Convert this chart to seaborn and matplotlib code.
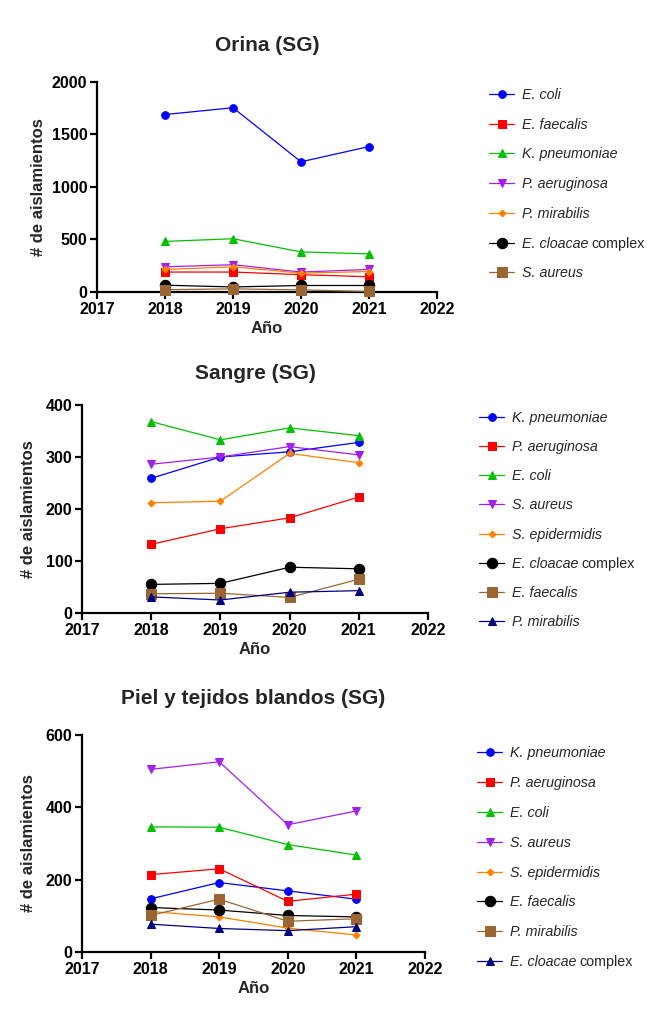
import matplotlib
matplotlib.use('Agg')
import pandas as pd
import seaborn as sns
import matplotlib.pyplot as plt

years = [2018, 2019, 2020, 2021]

# Orina (SG)
orina_names = ['E. coli', 'E. faecalis', 'K. pneumoniae', 'P. aeruginosa',
               'P. mirabilis', 'E. cloacae', 'S. aureus']
orina_vals = [
    [1690, 1755, 1240, 1385],
    [190, 190, 165, 145],
    [482, 507, 382, 363],
    [240, 260, 190, 215],
    [215, 240, 180, 195],
    [65, 48, 62, 62],
    [22, 30, 20, 5],
]

# Sangre (SG)
sangre_names = ['K. pneumoniae', 'P. aeruginosa', 'E. coli', 'S. aureus',
                'S. epidermidis', 'E. cloacae', 'E. faecalis', 'P. mirabilis']
sangre_vals = [
    [259, 300, 310, 328],
    [132, 162, 183, 223],
    [368, 333, 356, 341],
    [286, 300, 320, 304],
    [212, 215, 307, 289],
    [55, 57, 88, 85],
    [37, 38, 30, 65],
    [31, 25, 40, 43],
]

# Piel y tejidos blandos (SG)
piel_names = ['K. pneumoniae', 'P. aeruginosa', 'E. coli', 'S. aureus',
              'S. epidermidis', 'E. faecalis', 'P. mirabilis', 'E. cloacae']
piel_vals = [
    [147, 192, 169, 146],
    [214, 230, 140, 160],
    [346, 345, 297, 268],
    [505, 526, 352, 390],
    [112, 97, 66, 47],
    [123, 116, 101, 97],
    [101, 146, 85, 92],
    [77, 65, 59, 70],
]

# estilo por posicion (color, marcador, tamano)
styles = [
    ('#0000FF', 'o', 5.5),
    ('#FF0000', 's', 5.5),
    ('#00C000', '^', 5.5),
    ('#A020F0', 'v', 5.5),
    ('#FF8000', 'D', 3.5),
    ('#000000', 'o', 7.5),
    ('#996633', 's', 7),
    ('#000080', '^', 6),
]

sns.set_style('ticks')
plt.rcParams['font.family'] = ['Liberation Sans', 'DejaVu Sans']

fig = plt.figure(figsize=(6.59, 10.16), dpi=100)
W, H = 659, 1016
FS_LEG = 10.3
legends = []


def panel(rect, names, vals, title, ymax, ystep, leg_xy, ylab_x, tpad, lsp):
    x0, y0, x1, y1 = rect
    ax = fig.add_axes([x0 / W, 1 - y1 / H, (x1 - x0) / W, (y1 - y0) / H])
    for i, (n, v) in enumerate(zip(names, vals)):
        c, m, ms = styles[i]
        df = pd.DataFrame({'year': years, 'n': v})
        sns.lineplot(data=df, x='year', y='n', ax=ax, color=c, marker=m,
                     markersize=ms, markeredgecolor=c, linewidth=0.9,
                     label=n, clip_on=False, zorder=3 + i)
    ax.set_xlim(2017, 2022)
    ax.set_ylim(0, ymax)
    ax.set_xticks(range(2017, 2023))
    ax.set_yticks(range(0, ymax + 1, ystep))
    sns.despine(ax=ax)
    for s in ['left', 'bottom']:
        ax.spines[s].set_linewidth(1.6)
        ax.spines[s].set_color('black')
    ax.tick_params(direction='out', length=5, width=1.6, colors='black',
                   labelsize=11.5, pad=2)
    for t in ax.get_xticklabels() + ax.get_yticklabels():
        t.set_fontweight('bold')
    ax.set_title(title, fontsize=15, fontweight='bold', pad=tpad)
    ax.set_xlabel('Año', fontsize=12, fontweight='bold', labelpad=3)
    ax.set_ylabel('# de aislamientos', fontsize=12, fontweight='bold')
    ax.yaxis.set_label_coords((ylab_x - x0) / (x1 - x0), 0.5)
    leg = ax.legend(loc='upper left',
                    bbox_to_anchor=(leg_xy[0] / W, 1 - leg_xy[1] / H),
                    bbox_transform=fig.transFigure, frameon=False,
                    handlelength=1.75, handletextpad=0.56, labelspacing=lsp,
                    borderpad=0, borderaxespad=0,
                    prop={'style': 'italic', 'size': FS_LEG})
    legends.append((leg, names))
    return ax


panel((97, 82, 437, 292), orina_names, orina_vals, 'Orina (SG)', 2000, 500,
      (489, 88), 46, 22, 1.10)
panel((82, 405, 428, 613), sangre_names, sangre_vals, 'Sangre (SG)', 400, 100,
      (479, 411), 36, 19, 1.06)
panel((82, 735, 425, 952), piel_names, piel_vals, 'Piel y tejidos blandos (SG)',
      600, 200, (477, 746), 36, 22, 1.11)

# "complex" en letra normal despues de E. cloacae
fig.canvas.draw()
r = fig.canvas.get_renderer()
for leg, names in legends:
    for n, t in zip(names, leg.get_texts()):
        if n == 'E. cloacae':
            bb = t.get_window_extent(r)
            fig.text(bb.x1 / W + 3 / W, bb.y0 / H, 'complex', fontsize=FS_LEG,
                     ha='left', va='bottom')

plt.savefig('out.png', dpi=100)
